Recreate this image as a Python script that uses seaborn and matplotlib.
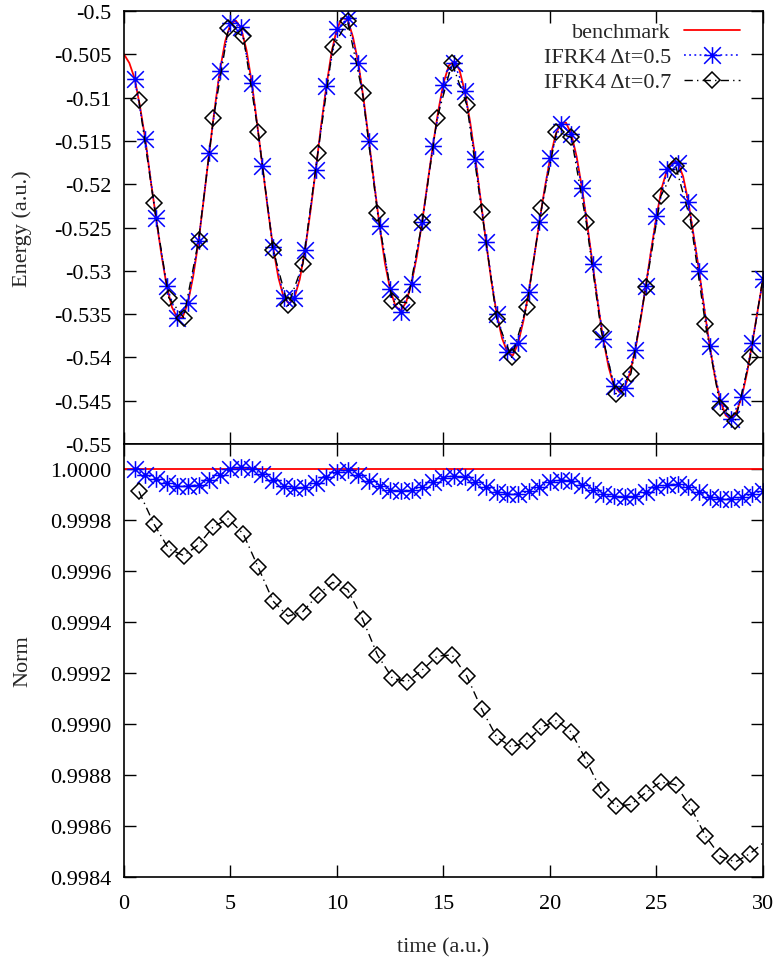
import numpy as np
import pandas as pd
import matplotlib
matplotlib.use("Agg")
import matplotlib.pyplot as plt
from matplotlib.path import Path
from matplotlib.ticker import FixedLocator, FuncFormatter
import seaborn as sns

# ---------------- data ----------------
bench_t = [0.0, 0.25, 0.5, 0.75, 1.0, 1.25, 1.5, 1.75, 2.0, 2.25, 2.5, 2.75, 3.0, 3.25, 3.5, 3.75,
           4.0, 4.25, 4.5, 4.75, 5.0, 5.25, 5.5, 5.75, 6.0, 6.25, 6.5, 6.75, 7.0, 7.25, 7.5, 7.75,
           8.0, 8.25, 8.5, 8.75, 9.0, 9.25, 9.5, 9.75, 10.0, 10.25, 10.5, 10.75, 11.0, 11.25, 11.5,
           11.75, 12.0, 12.25, 12.5, 12.75, 13.0, 13.25, 13.5, 13.75, 14.0, 14.25, 14.5, 14.75,
           15.0, 15.25, 15.5, 15.75, 16.0, 16.25, 16.5, 16.75, 17.0, 17.25, 17.5, 17.75, 18.0,
           18.25, 18.5, 18.75, 19.0, 19.25, 19.5, 19.75, 20.0, 20.25, 20.5, 20.75, 21.0, 21.25,
           21.5, 21.75, 22.0, 22.25, 22.5, 22.75, 23.0, 23.25, 23.5, 23.75, 24.0, 24.25, 24.5,
           24.75, 25.0, 25.25, 25.5, 25.75, 26.0, 26.25, 26.5, 26.75, 27.0, 27.25, 27.5, 27.75,
           28.0, 28.25, 28.5, 28.75, 29.0, 29.25, 29.5, 29.75, 30.0]
bench_energy = [-0.5050, -0.5060, -0.5078, -0.5110, -0.5148, -0.5195, -0.5238, -0.5280, -0.5317,
                -0.5342, -0.5354, -0.5354, -0.5337, -0.5306, -0.5266, -0.5216, -0.5164, -0.5114,
                -0.5069, -0.5035, -0.5015, -0.5011, -0.5020, -0.5045, -0.5083, -0.5130, -0.5179,
                -0.5228, -0.5273, -0.5308, -0.5331, -0.5338, -0.5331, -0.5310, -0.5276, -0.5232,
                -0.5184, -0.5133, -0.5087, -0.5047, -0.5020, -0.5008, -0.5010, -0.5030, -0.5060,
                -0.5102, -0.5150, -0.5200, -0.5248, -0.5291, -0.5322, -0.5341, -0.5346, -0.5336,
                -0.5314, -0.5283, -0.5243, -0.5199, -0.5156, -0.5116, -0.5083, -0.5063, -0.5058,
                -0.5068, -0.5093, -0.5128, -0.5171, -0.5219, -0.5267, -0.5312, -0.5350, -0.5378,
                -0.5394, -0.5398, -0.5384, -0.5358, -0.5325, -0.5285, -0.5244, -0.5205, -0.5171,
                -0.5144, -0.5129, -0.5129, -0.5142, -0.5168, -0.5204, -0.5247, -0.5292, -0.5338,
                -0.5379, -0.5411, -0.5433, -0.5440, -0.5435, -0.5418, -0.5392, -0.5357, -0.5317,
                -0.5276, -0.5237, -0.5204, -0.5183, -0.5174, -0.5175, -0.5191, -0.5221, -0.5260,
                -0.5300, -0.5345, -0.5387, -0.5423, -0.5450, -0.5467, -0.5471, -0.5463, -0.5446,
                -0.5418, -0.5383, -0.5346, -0.5310]
bench_norm_t = [0.0, 30.0]
bench_norm = [1.0000, 1.0000]

t05 = [0.5, 1.0, 1.5, 2.0, 2.5, 3.0, 3.5, 4.0, 4.5, 5.0, 5.5, 6.0, 6.5, 7.0, 7.5, 8.0, 8.5, 9.0,
       9.5, 10.0, 10.5, 11.0, 11.5, 12.0, 12.5, 13.0, 13.5, 14.0, 14.5, 15.0, 15.5, 16.0, 16.5,
       17.0, 17.5, 18.0, 18.5, 19.0, 19.5, 20.0, 20.5, 21.0, 21.5, 22.0, 22.5, 23.0, 23.5, 24.0,
       24.5, 25.0, 25.5, 26.0, 26.5, 27.0, 27.5, 28.0, 28.5, 29.0, 29.5, 30.0]
energy05 = [-0.5078, -0.5148, -0.5239, -0.5317, -0.5354, -0.5337, -0.5266, -0.5164, -0.5069, -0.5014,
            -0.5019, -0.5083, -0.5179, -0.5273, -0.5331, -0.5331, -0.5276, -0.5184, -0.5087, -0.5021,
            -0.5008, -0.5060, -0.5150, -0.5248, -0.5321, -0.5348, -0.5315, -0.5244, -0.5156, -0.5085,
            -0.5060, -0.5092, -0.5171, -0.5267, -0.5350, -0.5394, -0.5383, -0.5325, -0.5244, -0.5170,
            -0.5130, -0.5142, -0.5204, -0.5292, -0.5379, -0.5433, -0.5435, -0.5392, -0.5317, -0.5237,
            -0.5183, -0.5175, -0.5221, -0.5300, -0.5387, -0.5450, -0.5471, -0.5446, -0.5383, -0.5310]
norm05 = [1.000000, 0.999980, 0.999963, 0.999946, 0.999937, 0.999934, 0.999940, 0.999959, 0.999980, 1.000000,
          1.000010, 1.000000, 0.999982, 0.999959, 0.999937, 0.999926, 0.999930, 0.999946, 0.999970, 0.999990,
          0.999998, 0.999980, 0.999956, 0.999937, 0.999920, 0.999914, 0.999920, 0.999933, 0.999952, 0.999967,
          0.999976, 0.999969, 0.999950, 0.999930, 0.999913, 0.999904, 0.999904, 0.999914, 0.999930, 0.999950,
          0.999959, 0.999956, 0.999940, 0.999920, 0.999904, 0.999895, 0.999891, 0.999897, 0.999910, 0.999930,
          0.999940, 0.999942, 0.999930, 0.999910, 0.999893, 0.999884, 0.999884, 0.999891, 0.999904, 0.999917]

# last entry (t=30.1) lies just outside the frame: only its connecting line shows
t07 = [0.7, 1.4, 2.1, 2.8, 3.5, 4.2, 4.9, 5.6, 6.3, 7.0, 7.7, 8.4, 9.1, 9.8, 10.5, 11.2, 11.9,
       12.6, 13.3, 14.0, 14.7, 15.4, 16.1, 16.8, 17.5, 18.2, 18.9, 19.6, 20.3, 21.0, 21.7, 22.4,
       23.1, 23.8, 24.5, 25.2, 25.9, 26.6, 27.3, 28.0, 28.7, 29.4, 30.1]
energy07 = [-0.5103, -0.5222, -0.5331, -0.5354, -0.5265, -0.5124, -0.5020, -0.5029, -0.5140, -0.5276,
            -0.5340, -0.5292, -0.5164, -0.5042, -0.5012, -0.5095, -0.5233, -0.5335, -0.5337, -0.5244,
            -0.5124, -0.5060, -0.5109, -0.5232, -0.5356, -0.5400, -0.5342, -0.5228, -0.5140, -0.5146,
            -0.5244, -0.5369, -0.5442, -0.5419, -0.5319, -0.5214, -0.5179, -0.5242, -0.5362, -0.5458,
            -0.5473, -0.5400, -0.5292]
norm07 = [0.999914, 0.999787, 0.999688, 0.999662, 0.999704, 0.999776, 0.999806, 0.999747, 0.999616, 0.999483,
          0.999424, 0.999442, 0.999508, 0.999557, 0.999528, 0.999413, 0.999272, 0.999180, 0.999167, 0.999213,
          0.999267, 0.999272, 0.999188, 0.999058, 0.998949, 0.998910, 0.998932, 0.998988, 0.999014, 0.998969,
          0.998858, 0.998740, 0.998677, 0.998685, 0.998731, 0.998773, 0.998762, 0.998675, 0.998561, 0.998481,
          0.998459, 0.998492, 0.998540]

labels = ["benchmark", "IFRK4 \u0394t=0.5", "IFRK4 \u0394t=0.7"]
x_ticks = [0, 5, 10, 15, 20, 25, 30]
energy_ticks = [-0.5, -0.505, -0.51, -0.515, -0.52, -0.525, -0.53, -0.535, -0.54, -0.545, -0.55]
norm_ticks = [0.9984, 0.9986, 0.9988, 0.9990, 0.9992, 0.9994, 0.9996, 0.9998, 1.0000]

# ---------------- style ----------------
sns.set_theme(style="ticks")
plt.rcParams["font.family"] = ["Liberation Serif", "DejaVu Serif"]
plt.rcParams["axes.unicode_minus"] = False
plt.rcParams["axes.linewidth"] = 1.2
plt.rcParams["axes.edgecolor"] = "black"

FS = 16
star = Path([(-1, 0), (1, 0), (0, -1), (0, 1), (-1, -1), (1, 1), (-1, 1), (1, -1)],
            [Path.MOVETO, Path.LINETO] * 4)

fig = plt.figure(figsize=(7.75, 9.62), dpi=100)
ax1 = fig.add_axes([0.16, 0.53742, 0.8245, 0.45010])
ax2 = fig.add_axes([0.16, 0.08732, 0.8245, 0.45010])

bench_df = pd.DataFrame({"t": bench_t, "E": bench_energy})
bn_df = pd.DataFrame({"t": bench_norm_t, "N": bench_norm})
d05 = pd.DataFrame({"t": t05, "E": energy05, "N": norm05})
d07 = pd.DataFrame({"t": t07, "E": energy07, "N": norm07})
n_mark07 = len(t07) - 1

red_kw = dict(color="red", lw=1.3, linestyle="-")
blue_kw = dict(color="blue", lw=1.1, linestyle=(0, (1.2, 2.2)), marker=star, markersize=12,
               markeredgewidth=1.1, markerfacecolor="none", markeredgecolor="blue")
black_kw = dict(color="black", lw=1.0, linestyle=(0, (6, 3, 1, 3)), marker="D", markersize=8,
                markeredgewidth=1.1, markerfacecolor="none", markeredgecolor="black",
                markevery=list(range(n_mark07)))

sns.lineplot(data=bench_df, x="t", y="E", ax=ax1, estimator=None, sort=False, label=labels[0], **red_kw)
sns.lineplot(data=d05, x="t", y="E", ax=ax1, estimator=None, sort=False, label=labels[1], **blue_kw)
sns.lineplot(data=d07, x="t", y="E", ax=ax1, estimator=None, sort=False, label=labels[2], **black_kw)

sns.lineplot(data=bn_df, x="t", y="N", ax=ax2, estimator=None, sort=False, **red_kw)
sns.lineplot(data=d05, x="t", y="N", ax=ax2, estimator=None, sort=False, **blue_kw)
sns.lineplot(data=d07, x="t", y="N", ax=ax2, estimator=None, sort=False, **black_kw)

for ax in (ax1, ax2):
    ax.set_xlim(0, 30)
    ax.xaxis.set_major_locator(FixedLocator(x_ticks))
    ax.tick_params(direction="in", length=8.5, width=1.0, top=True, right=True,
                   labelsize=FS, colors="black", pad=9)
    for s in ax.spines.values():
        s.set_visible(True)
        s.set_color("black")
        s.set_linewidth(1.2)
    ax.set_facecolor("white")

ax1.set_ylim(-0.55, -0.5)
ax1.yaxis.set_major_locator(FixedLocator(energy_ticks))
ax1.yaxis.set_major_formatter(FuncFormatter(lambda v, p: f"{round(v, 4):g}"))
ax1.tick_params(axis="x", labelbottom=False)
ax1.set_xlabel("")
ax1.set_ylabel("Energy (a.u.)", fontsize=FS)
ax1.yaxis.set_label_coords(-0.144, 0.5)

ax2.set_ylim(0.9984, 1.0001)
ax2.yaxis.set_major_locator(FixedLocator(norm_ticks))
ax2.yaxis.set_major_formatter(FuncFormatter(lambda v, p: f"{v:.4f}"))
ax2.tick_params(axis="x", pad=12)
ax2.set_ylabel("Norm", fontsize=FS)
ax2.yaxis.set_label_coords(-0.144, 0.5)
ax2.set_xlabel("time (a.u.)", fontsize=FS)
ax2.xaxis.set_label_coords(0.5, -0.138)
if ax2.get_legend() is not None:
    ax2.get_legend().remove()

leg = ax1.legend(loc="upper right", bbox_to_anchor=(0.964, 0.975), frameon=False,
                 markerfirst=False, fontsize=FS, handlelength=2.5, handletextpad=0.6,
                 labelspacing=0.2, borderpad=0, borderaxespad=0, numpoints=1)

fig.savefig("out.png", dpi=100, facecolor="white")
